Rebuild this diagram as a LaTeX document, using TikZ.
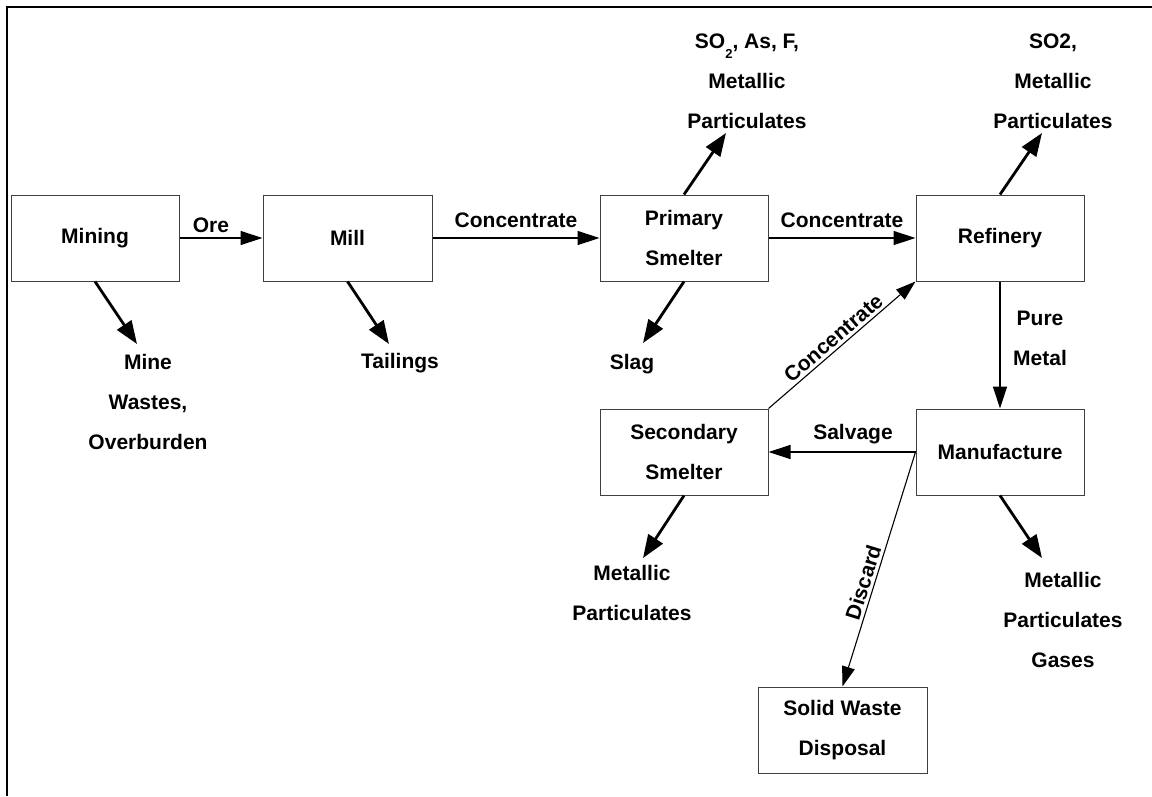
\documentclass[tikz,border=0pt]{standalone}
\usepackage{fontspec}
\setmainfont{Liberation Sans}
\usetikzlibrary{arrows.meta}
\newcommand\dgfont{\fontsize{21}{40}\selectfont\bfseries}
\begin{document}
\begin{tikzpicture}[x=1pt,y=-1pt,
  box/.style={draw=black!75, line width=1pt, fill=white, minimum width=#1,
    minimum height=86pt, inner sep=0pt, align=center, font=\dgfont},
  lbl/.style={inner sep=0pt, align=center, font=\dgfont},
  conn/.style={line width=1.4pt, -{Triangle[length=22pt,width=14pt]}},
  thin conn/.style={line width=1.1pt, -{Triangle[length=20pt,width=13pt]}},
  emit/.style={line width=2.8pt, -{Triangle[length=23pt,width=17pt]}},
  slbl/.style={inner sep=3pt, font=\dgfont, sloped, above}
]
\useasboundingbox (0,0) rectangle (1152,796);
\draw[line width=2.5pt] (1152,7) -- (7,7) -- (7,796);

% boxes
\node[box=168] (mining) at (95,238) {Mining};
\node[box=169] (mill) at (347.5,238) {Mill};
\node[box=168] (primary) at (684,238) {Primary\\Smelter};
\node[box=168] (refinery) at (1000,238) {Refinery};
\node[box=168] (secondary) at (684,452) {Secondary\\Smelter};
\node[box=168] (manufacture) at (1000,452) {Manufacture};
\node[box=169] (solid) at (842.5,730) {Solid Waste\\Disposal};

% emission tips
\coordinate (tmine) at (137,344);
\coordinate (tmill) at (389,344);
\coordinate (tprimup) at (726,133);
\coordinate (tslag) at (643,343);
\coordinate (trefup) at (1042,133);
\coordinate (tsec) at (643,558);
\coordinate (tman) at (1042,558);

% emission labels
\node[lbl] (lmine) at (148,402) {Mine\\Wastes,\\Overburden};
\node[lbl] (ltail) at (400,363) {Tailings};
\node[lbl] (lprim) at (747,81) {SO\smash{\raisebox{-10pt}{\fontsize{13}{13}\selectfont 2}}, As, F,\\Metallic\\Particulates};
\node[lbl] (lslag) at (632,364) {Slag};
\node[lbl] (lref) at (1053,81) {SO2,\\Metallic\\Particulates};
\node[lbl] (lsec) at (632,593) {Metallic\\Particulates};
\node[lbl] (lman) at (1063,620) {Metallic\\Particulates\\Gases};

% emission arrows
\draw[emit] (mining.south) -- (tmine);
\draw[emit] (mill.south) -- (tmill);
\draw[emit] (primary.north) -- (tprimup);
\draw[emit] (primary.south) -- (tslag);
\draw[emit] (refinery.north) -- (trefup);
\draw[emit] (secondary.south) -- (tsec);
\draw[emit] (manufacture.south) -- (tman);

% main flow
\draw[conn] (mining) -- (mill);
\node[lbl] (lore) at (211,225) {Ore};
\draw[conn] (mill) -- (primary);
\node[lbl] (lconc1) at (516,220) {Concentrate};
\draw[conn] (primary) -- (refinery);
\node[lbl] (lconc2) at (842,220) {Concentrate};
\draw[conn] (refinery.south) -- (manufacture.north);
\node[lbl] (lpure) at (1040,338) {Pure\\Metal};
\draw[conn] (manufacture.west) -- (secondary.east);
\node[lbl] (lsalv) at (853,434) {Salvage};
\draw[thin conn] (manufacture.west) -- (solid.north)
  node[slbl, pos=0.57] {Discard};
\draw[thin conn] (secondary.north east) -- (refinery.south west)
  node[slbl, pos=0.49] {Concentrate};
\end{tikzpicture}
\end{document}
